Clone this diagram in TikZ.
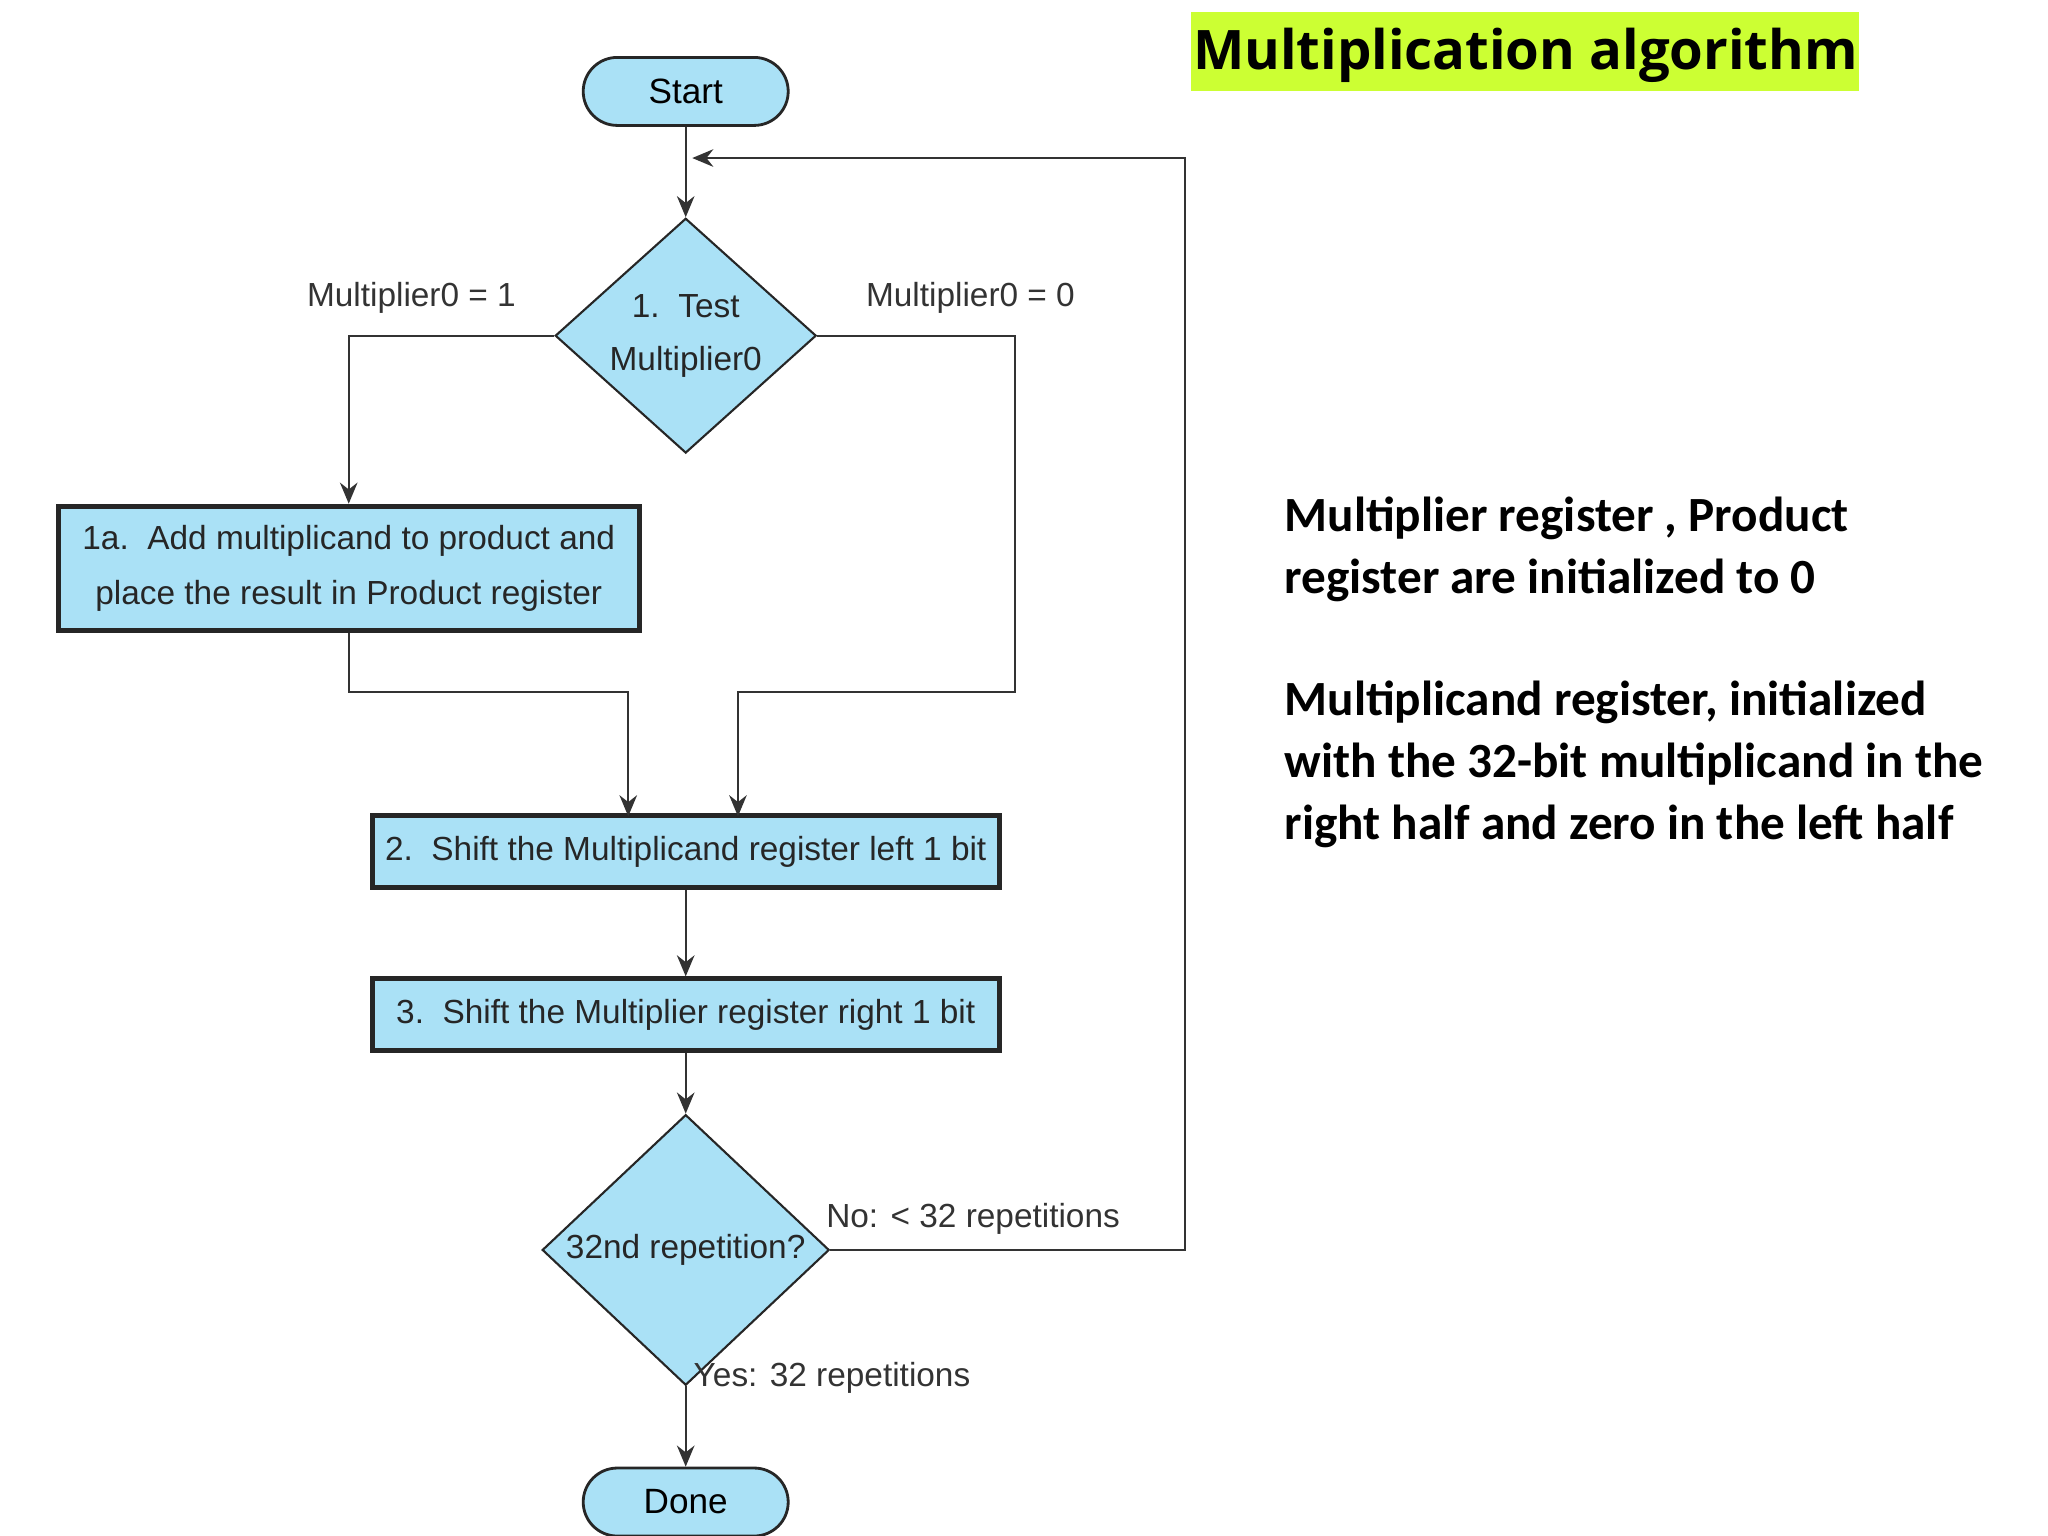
\documentclass[tikz,border=0pt]{standalone}
\usepackage{fontspec}
\setmainfont{Liberation Sans}
\newfontfamily\carl{Carlito}
\newfontfamily\opens{Open Sans}
\usetikzlibrary{shapes.geometric,arrows.meta}
\definecolor{fl}{RGB}{170,225,246}
\definecolor{tg}{RGB}{204,255,51}
\begin{document}
\begin{tikzpicture}[x=0.013061cm,y=-0.013061cm,
  box/.style={draw=black!85,line width=1.4pt,fill=fl,inner sep=0,font=\fontsize{9.5}{13}\selectfont,text=black!85},
  dia/.style={draw=black!85,line width=0.6pt,fill=fl,diamond,inner sep=0,font=\fontsize{9.5}{15}\selectfont,align=center,text=black!85},
  term/.style={draw=black!85,line width=0.8pt,fill=fl,rounded corners=0.34cm,minimum width=2.05cm,minimum height=0.68cm,inner sep=0,font=\fontsize{10}{12}\selectfont},
  lab/.style={font=\fontsize{9.5}{12}\selectfont,text=black!80},
  ar/.style={draw=black!80,line width=0.6pt,-{Stealth[length=6pt,width=5pt]}},
  ln/.style={draw=black!80,line width=0.6pt},
  rt/.style={font=\carl\bfseries\fontsize{14}{17.6}\selectfont,anchor=north west,align=left,inner sep=0}]
\useasboundingbox (0,0) rectangle (1568,1176);
\node[term] (start) at (525,70) {Start};
\node[dia,minimum width=2.61cm,minimum height=2.09cm] (d1) at (525,257) {1.\ \ Test\\Multiplier0};
\node[box,minimum width=5.81cm,minimum height=1.24cm,align=center,font=\fontsize{9.5}{15.5}\selectfont] (a) at (267,435) {1a.\ \ Add multiplicand to product and\\place the result in Product register};
\node[box,minimum width=6.27cm,minimum height=0.72cm] (s2) at (525,652) {2.\ \ Shift the Multiplicand register left 1 bit};
\node[box,minimum width=6.27cm,minimum height=0.72cm] (s3) at (525,777) {3.\ \ Shift the Multiplier register right 1 bit};
\node[dia,minimum width=2.87cm,minimum height=2.09cm] (d2) at (525,957) {32nd repetition?};
\node[term] (done) at (525,1150) {Done};
\coordinate (top) at (525,121);
\draw[ln] (start) -- (top);
\draw[ar] (top) -- (d1);
\draw[ar] (d1.west) -| (a.north);
\draw[ar] (a.south) |- (481,530) -- (481,625);
\draw[ar] (d1.east) -| (777,530) -| (565,625);
\draw[ar] (s2) -- (s3);
\draw[ar] (s3) -- (d2);
\draw[ar] (d2) -- (done);
\draw[ar] (d2.east) -- (907,957) |- (530,121);
\node[lab] at (315,228) {Multiplier0 = 1};
\node[lab] at (743,228) {Multiplier0 = 0};
\node[lab] at (745,933) {No: < 32 repetitions};
\node[lab] at (637,1055) {Yes: 32 repetitions};
\fill[tg] (912,9) rectangle (1423,70);
\node[font=\opens\bfseries\fontsize{15.5}{18}\selectfont] (t) at (1168,42) {Multiplication algorithm};
\node[rt] (r1) at (983,380) {Multiplier register , Product\\register are initialized to 0};
\node[rt] (r2) at (983,521) {Multiplicand register, initialized\\with the 32-bit multiplicand in the\\right half and zero in the left half};
\end{tikzpicture}
\end{document}
